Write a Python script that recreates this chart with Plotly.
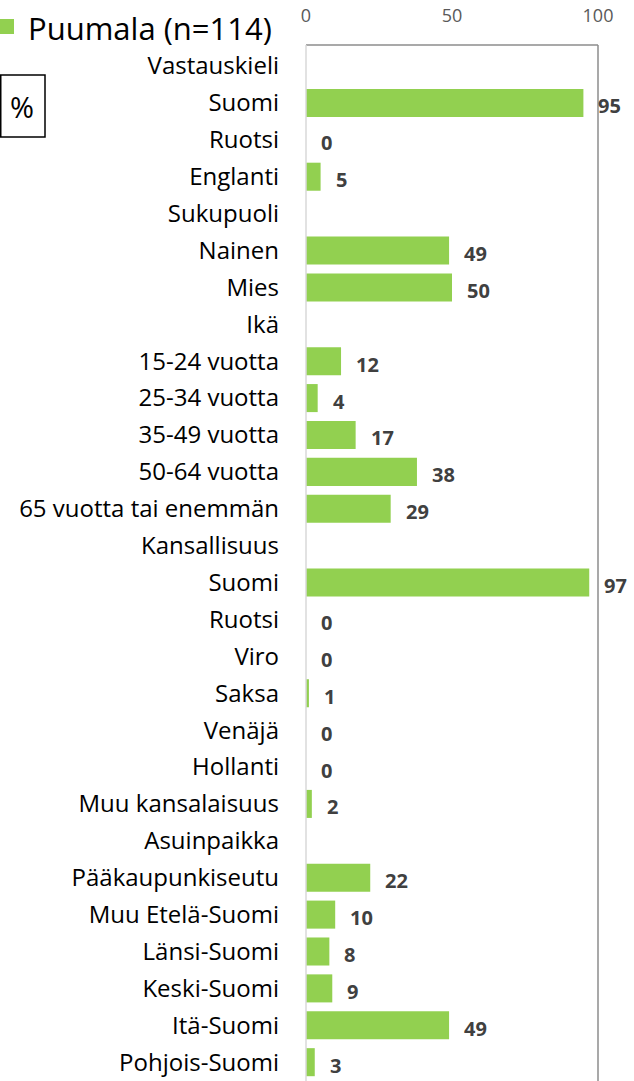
import plotly.graph_objects as go

# ---- data ----
categories = [
    "Vastauskieli", "Suomi", "Ruotsi", "Englanti",
    "Sukupuoli", "Nainen", "Mies",
    "Ikä", "15-24 vuotta", "25-34 vuotta", "35-49 vuotta", "50-64 vuotta", "65 vuotta tai enemmän",
    "Kansallisuus", "Suomi", "Ruotsi", "Viro", "Saksa", "Venäjä", "Hollanti", "Muu kansalaisuus",
    "Asuinpaikka", "Pääkaupunkiseutu", "Muu Etelä-Suomi", "Länsi-Suomi", "Keski-Suomi", "Itä-Suomi", "Pohjois-Suomi",
]
values = [
    None, 95, 0, 5,
    None, 49, 50,
    None, 12, 4, 17, 38, 29,
    None, 97, 0, 0, 1, 0, 0, 2,
    None, 22, 10, 8, 9, 49, 3,
]
series_name = "Puumala (n=114)"
x_ticks = [0, 50, 100]

# ---- layout geometry (pixels) ----
W, H = 634, 1081
L, R, T, B = 306, 36, 45, 0
PW, PH = W - L - R, H - T - B

def px_x(px):
    return (px - L) / PW

def px_y(py):
    return (H - B - py) / PH

GREEN = "#92d050"
FONT = "Open Sans"

pos = list(range(len(categories)))

fig = go.Figure()
fig.add_trace(go.Bar(
    x=values, y=pos, orientation="h",
    marker=dict(color=GREEN, line=dict(width=0)),
    width=0.76, showlegend=False, hoverinfo="x+y",
))

annotations = []
for p, v in zip(pos, values):
    if v is None:
        continue
    annotations.append(dict(
        x=v, y=p, xref="x", yref="y", text=f"<b>{v}</b>", showarrow=False,
        xanchor="left", yanchor="middle", xshift=13, yshift=-3,
        font=dict(family=FONT, size=20, color="#404040"),
    ))

# legend-like title
annotations.append(dict(
    x=px_x(26), y=px_y(28), xref="paper", yref="paper", text=series_name,
    showarrow=False, xanchor="left", yanchor="middle",
    font=dict(family=FONT, size=31, color="#000000"),
))
# percent box text
annotations.append(dict(
    x=px_x(22), y=px_y(106), xref="paper", yref="paper", text="%",
    showarrow=False, xanchor="center", yanchor="middle",
    font=dict(family=FONT, size=29, color="#000000"),
))

shapes = [
    # legend square
    dict(type="rect", xref="paper", yref="paper",
         x0=px_x(0), x1=px_x(14), y0=px_y(34), y1=px_y(19),
         fillcolor=GREEN, line=dict(width=0)),
    # percent box
    dict(type="rect", xref="paper", yref="paper",
         x0=px_x(0.75), x1=px_x(45), y0=px_y(137), y1=px_y(75),
         fillcolor="rgba(0,0,0,0)", line=dict(color="#000000", width=1.5)),
    # top border
    dict(type="line", xref="paper", yref="paper", x0=0, x1=1, y0=1, y1=1,
         line=dict(color="#8c8c8c", width=1.5)),
    # right border
    dict(type="line", xref="paper", yref="paper", x0=1, x1=1, y0=0, y1=1,
         line=dict(color="#8c8c8c", width=1.5)),
    # left axis line
    dict(type="line", xref="paper", yref="paper", x0=0, x1=0, y0=0, y1=1,
         line=dict(color="#d9d9d9", width=1.5)),
]

fig.update_layout(
    width=W, height=H,
    margin=dict(l=L, r=R, t=T, b=B, pad=0),
    paper_bgcolor="white", plot_bgcolor="white",
    font=dict(family=FONT, color="#000000"),
    annotations=annotations, shapes=shapes,
    bargap=0.24,
    xaxis=dict(
        range=[0, 100], side="top", tickvals=x_ticks, ticktext=[str(t) for t in x_ticks],
        showgrid=False, zeroline=False, showline=False, ticks="",
        ticklabelstandoff=18,
        tickfont=dict(family=FONT, size=18, color="#595959"),
        fixedrange=True,
    ),
    yaxis=dict(
        range=[27.51, -0.57], tickvals=pos, ticktext=categories,
        showgrid=False, zeroline=False, showline=False, ticks="",
        ticklabelstandoff=26,
        tickfont=dict(family=FONT, size=24, color="#000000"),
        fixedrange=True,
    ),
)

fig.write_html(
    "out.html",
    config={"displayModeBar": False},
    post_script="document.body.style.margin='0';",
)
